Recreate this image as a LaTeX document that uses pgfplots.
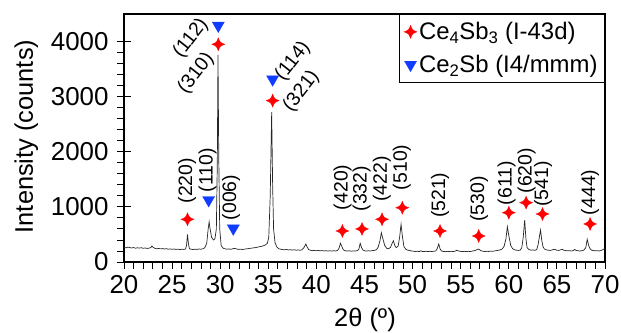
\documentclass[border=0pt]{standalone}
\usepackage{pgfplots}
\pgfplotsset{compat=1.18}
\usepackage{fontspec}
\setmainfont{Liberation Sans}
\usetikzlibrary{plotmarks}
\definecolor{cred}{RGB}{255,0,0}
\definecolor{cblue}{RGB}{15,60,255}
\pgfdeclareplotmark{star4}{%
  \pgfpathmoveto{\pgfqpoint{0pt}{\pgfplotmarksize}}%
  \pgfpathcurveto{\pgfqpoint{0.28\pgfplotmarksize}{0.28\pgfplotmarksize}}{\pgfqpoint{0.28\pgfplotmarksize}{0.28\pgfplotmarksize}}{\pgfqpoint{\pgfplotmarksize}{0pt}}%
  \pgfpathcurveto{\pgfqpoint{0.28\pgfplotmarksize}{-0.28\pgfplotmarksize}}{\pgfqpoint{0.28\pgfplotmarksize}{-0.28\pgfplotmarksize}}{\pgfqpoint{0pt}{-\pgfplotmarksize}}%
  \pgfpathcurveto{\pgfqpoint{-0.28\pgfplotmarksize}{-0.28\pgfplotmarksize}}{\pgfqpoint{-0.28\pgfplotmarksize}{-0.28\pgfplotmarksize}}{\pgfqpoint{-\pgfplotmarksize}{0pt}}%
  \pgfpathcurveto{\pgfqpoint{-0.28\pgfplotmarksize}{0.28\pgfplotmarksize}}{\pgfqpoint{-0.28\pgfplotmarksize}{0.28\pgfplotmarksize}}{\pgfqpoint{0pt}{\pgfplotmarksize}}%
  \pgfpathclose
  \pgfusepathqfillstroke}
\newcommand{\tickf}{\fontsize{26}{30}\selectfont}
\newcommand{\labf}{\fontsize{25.5}{30}\selectfont}
\newcommand{\legf}{\fontsize{24}{28}\selectfont}
\newcommand{\smf}{\fontsize{19.5}{23}\selectfont}
\begin{document}
\begin{tikzpicture}[x=1bp,y=1bp]
\path[use as bounding box] (-124,-70) rectangle (497,262);
\begin{axis}[
  at={(0,0)}, anchor=south west,
  scale only axis, width=481bp, height=248bp,
  xmin=20, xmax=70, ymin=0, ymax=4500,
  xtick={20,25,...,70}, ytick={0,1000,...,4000},
  minor x tick num=4, minor y tick num=4,
  tick pos=left, tick align=outside,
  major tick length=7bp, minor tick length=7bp,
  tick style={line width=0.9bp, black},
  axis line style={line width=1.2bp},
  /pgf/number format/assume math mode=true,
  /pgf/number format/1000 sep={},
  tick label style={font=\tickf},
  xticklabel style={yshift=-3bp},
  yticklabel style={xshift=-5bp},
  xlabel={2θ (º)}, ylabel={Intensity (counts)},
  label style={font=\labf},
  xlabel style={at={(axis description cs:0.501,-0.232)}, anchor=center},
  ylabel style={at={(axis description cs:-0.203,0.506)}, anchor=center},
  legend style={at={(1,1)}, anchor=north east, draw=black, line width=0.9bp,
    font=\legf, inner xsep=5bp, inner ysep=6bp, row sep=10bp},
  legend cell align=left,
]
\addplot[black!85, line width=0.7bp, forget plot] coordinates {
(20.0,265) (20.2,258) (20.4,270) (20.6,262) (20.8,255) (21.0,262) (21.2,250) (21.4,258) (21.6,252) (21.8,260)
(22.0,248) (22.2,255) (22.4,246) (22.6,252) (22.8,262) (22.9,290) (23.0,270) (23.2,248) (23.4,240) (23.6,246)
(23.8,238) (24.0,244) (24.2,236) (24.4,242) (24.6,232) (24.8,238) (25.0,230) (25.2,236) (25.4,228) (25.6,234)
(25.8,226) (26.0,232) (26.2,228) (26.4,236) (26.5,300) (26.6,500) (26.7,330) (26.8,240) (27.0,232) (27.2,226)
(27.4,234) (27.6,228) (27.8,236) (28.0,232) (28.2,240) (28.4,260) (28.6,340) (28.75,600) (28.85,730) (28.95,600)
(29.1,450) (29.3,400) (29.45,420) (29.6,600) (29.7,1800) (29.77,3757) (29.85,1900) (29.95,600) (30.1,300) (30.3,250)
(30.5,240) (30.7,232) (30.9,238) (31.1,230) (31.3,240) (31.5,248) (31.7,238) (31.9,228) (32.1,234) (32.3,226)
(32.5,232) (32.7,238) (32.9,242) (33.1,248) (33.3,252) (33.5,258) (33.7,262) (33.9,270) (34.1,278) (34.3,285)
(34.5,295) (34.7,310) (34.9,340) (35.05,450) (35.2,1200) (35.35,2720) (35.45,1400) (35.55,600) (35.7,350) (35.9,270)
(36.1,240) (36.3,232) (36.5,226) (36.7,222) (36.9,228) (37.1,218) (37.3,224) (37.5,216) (37.7,222) (37.9,214)
(38.1,220) (38.3,212) (38.5,222) (38.7,260) (38.9,325) (39.05,270) (39.2,225) (39.4,212) (39.6,206) (39.8,212)
(40.0,204) (40.2,210) (40.4,202) (40.6,208) (40.8,200) (41.0,206) (41.2,198) (41.4,204) (41.6,198) (41.8,206)
(42.0,200) (42.2,210) (42.35,250) (42.5,340) (42.65,280) (42.8,220) (43.0,205) (43.2,198) (43.4,204) (43.6,196)
(43.8,202) (44.0,198) (44.2,204) (44.4,225) (44.55,340) (44.7,260) (44.85,215) (45.0,205) (45.2,198) (45.4,204)
(45.6,200) (45.8,206) (46.0,210) (46.2,220) (46.4,260) (46.6,380) (46.75,530) (46.9,430) (47.1,300) (47.3,250)
(47.5,240) (47.7,265) (47.85,330) (48.0,385) (48.15,300) (48.3,260) (48.5,290) (48.65,450) (48.8,684) (48.95,450)
(49.1,280) (49.3,230) (49.5,215) (49.7,208) (49.9,200) (50.1,196) (50.3,190) (50.5,196) (50.7,188) (50.85,205)
(51.0,192) (51.2,190) (51.4,196) (51.6,188) (51.8,194) (52.0,190) (52.2,196) (52.4,198) (52.55,240) (52.72,327)
(52.85,240) (53.0,200) (53.2,192) (53.4,188) (53.6,194) (53.8,188) (54.0,195) (54.2,190) (54.4,196) (54.6,212)
(54.8,200) (55.0,192) (55.2,188) (55.4,194) (55.6,188) (55.8,194) (56.0,190) (56.2,198) (56.4,205) (56.6,215)
(56.8,236) (56.95,225) (57.1,205) (57.3,196) (57.5,190) (57.7,196) (57.9,190) (58.1,198) (58.3,194) (58.5,200)
(58.7,206) (58.9,212) (59.1,220) (59.3,235) (59.5,280) (59.7,420) (59.85,640) (60.0,480) (60.2,300) (60.4,240)
(60.6,222) (60.8,214) (61.0,210) (61.2,218) (61.35,260) (61.5,450) (61.65,760) (61.78,420) (61.9,260) (62.1,225)
(62.3,215) (62.5,220) (62.7,212) (62.9,225) (63.05,320) (63.2,480) (63.3,580) (63.42,400) (63.55,280) (63.7,235)
(63.9,222) (64.1,214) (64.3,210) (64.5,218) (64.7,230) (64.85,225) (65.0,212) (65.2,210) (65.4,222) (65.55,230)
(65.7,215) (65.9,208) (66.1,202) (66.3,206) (66.5,200) (66.7,208) (66.85,228) (67.0,210) (67.2,204) (67.4,200)
(67.6,206) (67.8,215) (68.0,260) (68.15,412) (68.3,300) (68.45,240) (68.6,215) (68.8,208) (69.0,202) (69.2,206)
(69.4,200) (69.6,210) (69.8,225) (69.9,240) (70.0,245)
};
\addplot[only marks, mark=star4, mark size=6.5bp, cred, mark options={fill=cred, draw=cred, line width=0.3bp}] coordinates {
(26.6,775) (29.8,3950) (35.45,2928) (42.7,563) (44.74,600) (46.82,775) (48.93,985) (52.85,563) (56.87,472) (60.0,895) (61.8,1077) (63.5,871) (68.45,690)
};
\addlegendentry{Ce\textsubscript{4}Sb\textsubscript{3} (I-43d)}
\addplot[only marks, mark=triangle*, mark size=7bp, cblue, mark options={rotate=180, fill=cblue, draw=cblue, line width=0.3bp}] coordinates {
(28.8,1125) (29.8,4290) (31.36,610) (35.45,3315)
};
\addlegendentry{Ce\textsubscript{2}Sb (I4/mmm)}
\begin{scope}[every node/.style={font=\smf, inner sep=0pt}]
\node[rotate=90, anchor=west] at (axis cs:26.55,1060) {(220)};
\node[rotate=90, anchor=west] at (axis cs:28.68,1265) {(110)};
\node[rotate=90, anchor=west] at (axis cs:31.12,757) {(006)};
\node[rotate=90, anchor=west] at (axis cs:42.71,940) {(420)};
\node[rotate=90, anchor=west] at (axis cs:44.7,915) {(332)};
\node[rotate=90, anchor=west] at (axis cs:46.8,1090) {(422)};
\node[rotate=90, anchor=west] at (axis cs:48.87,1302) {(510)};
\node[rotate=90, anchor=west] at (axis cs:52.85,795) {(521)};
\node[rotate=90, anchor=west] at (axis cs:56.9,726) {(530)};
\node[rotate=90, anchor=west] at (axis cs:59.78,1030) {(611)};
\node[rotate=90, anchor=west] at (axis cs:61.86,1242) {(620)};
\node[rotate=90, anchor=west] at (axis cs:63.57,1000) {(541)};
\node[rotate=90, anchor=west] at (axis cs:68.44,848) {(444)};
\node[rotate=52, anchor=center] at (axis cs:26.95,4060) {(112)};
\node[rotate=52, anchor=center] at (axis cs:27.5,3420) {(310)};
\node[rotate=52, anchor=center] at (axis cs:37.55,3640) {(114)};
\node[rotate=52, anchor=center] at (axis cs:38.45,3100) {(321)};
\end{scope}
\end{axis}
\begin{axis}[
  at={(0,0)}, anchor=south west,
  scale only axis, width=481bp, height=248bp,
  xmin=20, xmax=70, ymin=0, ymax=4500,
  xtick=\empty, ytick={0,1000,...,4000}, yticklabels={},
  minor y tick num=0,
  tick pos=left, tick align=inside,
  major tick length=7bp,
  tick style={line width=0.9bp, black},
  axis line style={draw=none},
]
\end{axis}
\end{tikzpicture}
\end{document}
